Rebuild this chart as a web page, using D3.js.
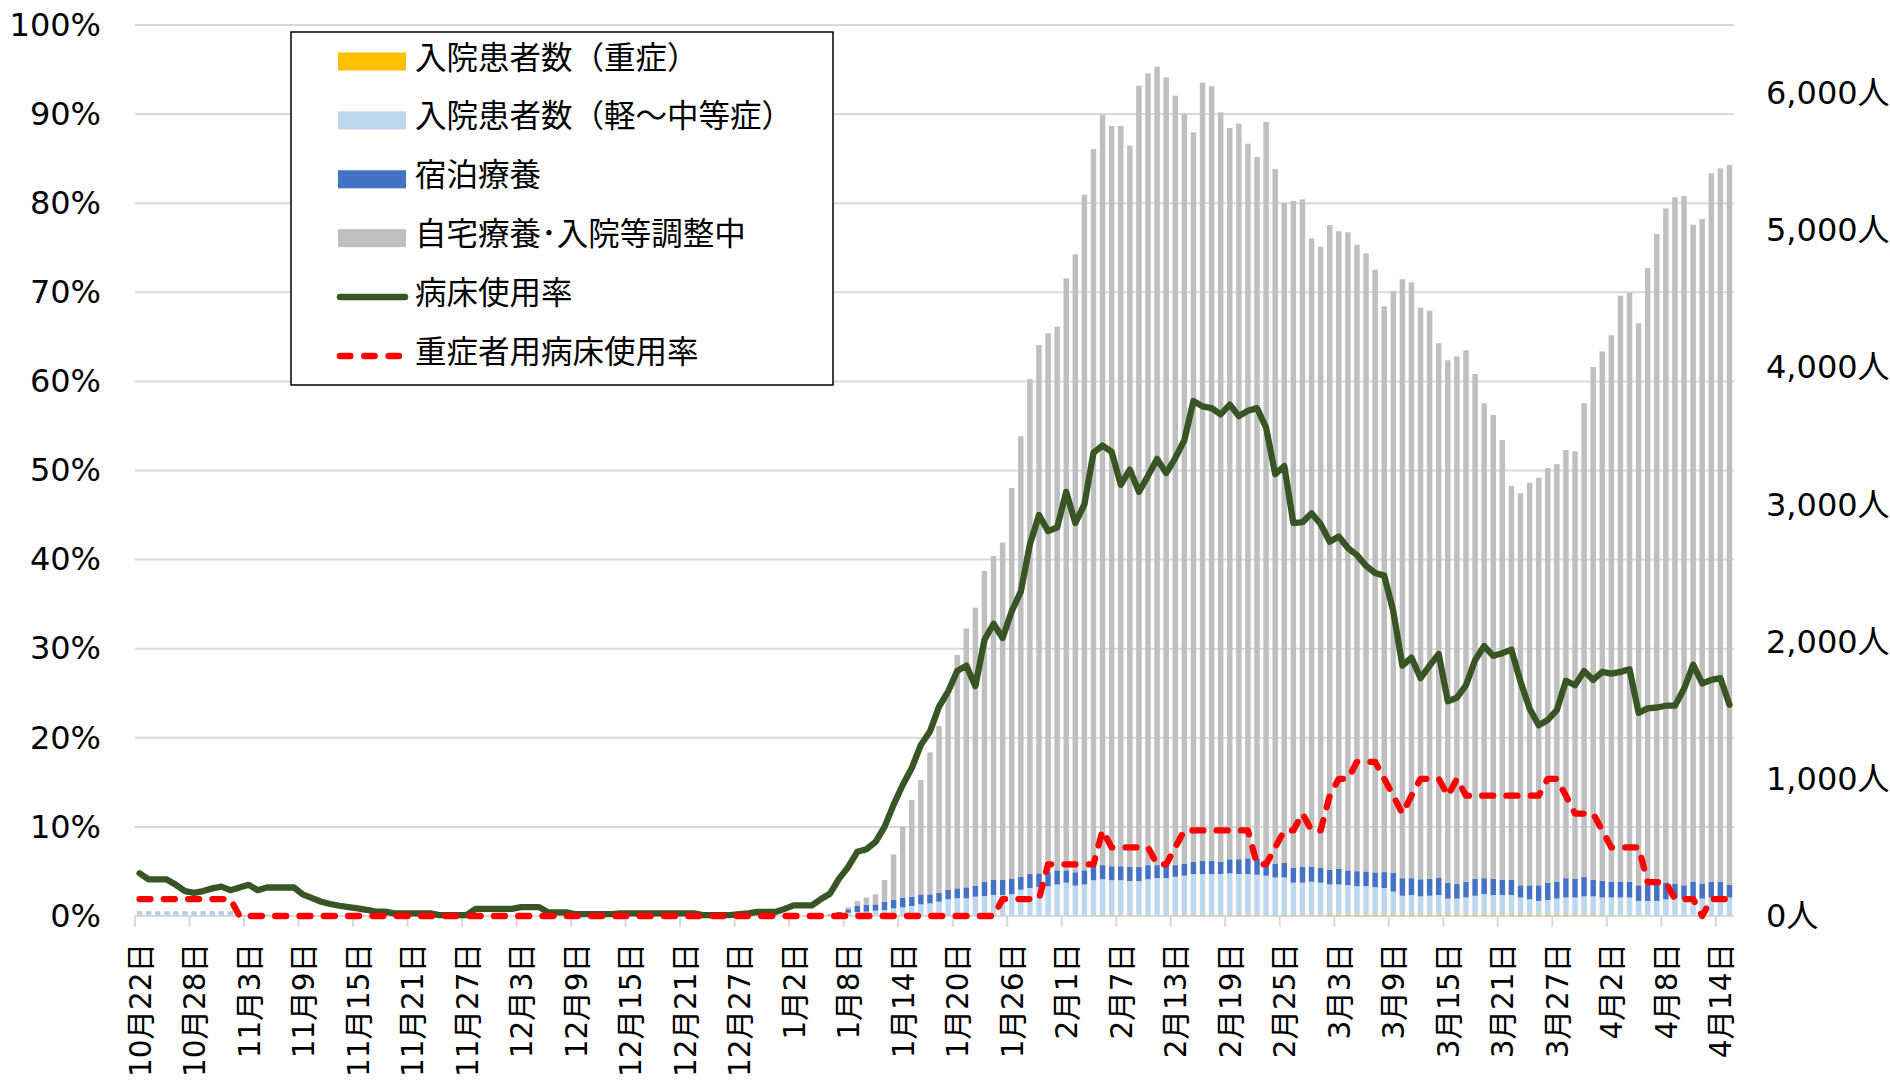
<!DOCTYPE html>
<html>
<head>
<meta charset="utf-8">
<script src="https://cdn.jsdelivr.net/npm/d3@7/dist/d3.min.js"></script>
<style>
	body { margin: 0; background: #fff; }
	svg text { font-family: "DejaVu Sans", "Noto Sans CJK JP", sans-serif; fill: #000; }
</style>
</head>
<body>
<div id="chart"></div>
<script>
// categories: one bar per day, 2021-10-22 .. 2022-04-15
const categories = d3.timeDay.range(new Date(2021, 9, 22), new Date(2022, 3, 16));

const tickLabels = ["10月22日","10月28日","11月3日","11月9日","11月15日","11月21日","11月27日",
	"12月3日","12月9日","12月15日","12月21日","12月27日","1月2日","1月8日","1月14日","1月20日",
	"1月26日","2月1日","2月7日","2月13日","2月19日","2月25日","3月3日","3月9日","3月15日",
	"3月21日","3月27日","4月2日","4月8日","4月14日"];

// 入院患者数（重症）
const severe = [
	1,1,1,1,1,1,1,1,1,1,
	1,0,0,0,0,0,0,0,0,0,0,0,0,0,0,0,0,0,0,0,0,0,0,0,0,0,0,0,0,0,
	0,0,0,0,0,0,0,0,0,0,0,0,0,0,0,0,0,0,0,0,0,0,0,0,0,0,0,0,0,0,0,
	0,0,0,0,0,0,0,0,0,0,0,0,0,0,0,0,0,0,0,0,0,0,0,0,1,1,1,1,1,3,3,
	3,3,3,3,5,4,4,4,4,4,3,3,4,5,5,5,5,5,5,5,5,3,3,4,5,5,6,5,
	5,7,8,8,9,9,9,8,7,6,7,8,8,8,7,8,7,7,7,7,7,7,7,7,7,8,8,7,6,6,6,
	5,4,4,4,4,2,2,2,1,1,1,0,1,1,1
];
// 入院患者数（軽～中等症）
const mild = [
	20,20,20,20,20,20,20,20,20,20,
	20,5,5,5,5,5,5,0,0,0,0,0,0,0,0,0,0,0,0,0,0,0,0,0,0,0,0,0,0,0,
	0,0,0,0,0,0,0,0,0,0,0,0,0,0,0,0,0,0,0,0,0,0,0,0,0,0,0,0,0,0,0,
	0,0,0,0,0,5,15,24,29,32,39,44,56,63,73,85,92,105,122,129,129,141,146,153,152,158,191,203,211,214,227,
	240,219,227,258,263,257,257,251,251,264,273,273,282,289,301,301,301,301,306,301,301,298,291,277,276,238,237,245,
	238,223,222,217,208,208,201,196,171,142,146,135,140,145,120,119,128,141,154,146,146,146,128,115,103,109,119,128,129,137,137,
	130,131,131,131,106,108,108,120,126,121,126,127,134,126,134
];
// 宿泊療養
const lodging = [
	3,3,3,3,3,3,3,3,3,3,
	3,0,0,0,0,0,0,0,0,0,0,0,0,0,0,0,0,0,0,0,0,0,0,0,0,0,0,0,0,0,
	0,0,0,0,0,0,0,0,0,0,0,0,0,0,0,0,0,0,0,0,0,0,0,0,0,0,0,0,0,0,0,
	0,0,0,0,0,5,14,25,44,48,46,61,61,71,68,73,66,65,68,73,80,78,105,110,110,111,94,102,99,102,103,
	90,97,103,102,103,102,102,103,103,103,95,95,85,89,90,98,98,90,103,108,115,120,114,102,107,110,115,108,
	107,108,115,108,110,108,108,116,136,128,123,125,123,128,116,106,115,123,115,118,110,110,89,102,114,126,123,141,136,141,120,
	120,115,115,115,114,119,119,123,110,102,123,110,115,123,94
];
// 自宅療養・入院等調整中
const home = [
	10,10,10,10,10,10,10,10,10,10,
	10,5,5,5,5,5,5,0,0,0,0,0,0,0,0,0,0,0,0,0,0,0,0,0,0,0,0,0,0,0,
	0,0,0,0,0,0,0,0,0,0,0,0,0,0,0,0,0,0,0,0,0,0,0,0,0,0,0,0,0,0,0,
	0,0,0,0,0,0,0,14,36,54,73,158,333,518,705,834,1036,1216,1422,1702,1889,2030,2266,2363,2461,2852,3214,3611,3854,3932,3966,
	4319,4508,4929,5232,5472,5400,5400,5262,5699,5776,5825,5747,5613,5468,5321,5675,5649,5467,5334,5366,5213,5116,5386,5066,4813,4864,4870,4586,
	4533,4703,4650,4655,4570,4509,4397,4128,4245,4369,4347,4170,4145,3897,3811,3850,3877,3683,3464,3384,3209,2874,2860,2937,2973,3025,3047,3124,3119,3458,3742,
	3864,3986,4275,4297,4100,4498,4746,4917,5006,5028,4793,4848,5168,5204,5249
];
// 病床使用率 (%)
const bedRate = [
	4.8,4.1,4.1,4.1,3.5,2.8,2.6,2.8,3.1,3.3,
	2.9,3.2,3.5,2.9,3.2,3.2,3.2,3.2,2.4,2.0,1.6,1.35,1.15,1.0,0.85,0.7,0.5,0.5,0.3,0.3,0.3,0.3,0.3,0.1,0.1,0.1,0.1,0.8,0.8,0.8,
	0.8,0.8,1.0,1.0,1.0,0.4,0.4,0.4,0.2,0.2,0.2,0.2,0.2,0.3,0.3,0.3,0.3,0.3,0.3,0.3,0.3,0.3,0.1,0.1,0.1,0.1,0.2,0.3,0.45,0.45,0.45,
	0.8,1.2,1.2,1.2,1.9,2.5,4.2,5.5,7.2,7.5,8.3,10.0,12.5,14.7,16.6,19.2,20.7,23.5,25.2,27.5,28.1,25.8,31.0,32.8,31.2,34.2,36.4,41.7,45.0,43.2,43.6,
	47.6,44.1,46.2,52.0,52.8,52.1,48.4,50.1,47.6,49.4,51.3,49.7,51.4,53.4,57.8,57.2,57.0,56.3,57.4,56.1,56.7,57.0,54.8,49.6,50.5,44.1,44.2,45.2,
	44.0,42.0,42.6,41.3,40.5,39.3,38.5,38.2,34.2,28.1,29.0,26.7,28.1,29.4,24.1,24.5,25.9,28.7,30.3,29.2,29.5,29.9,26.3,23.3,21.4,22.0,23.1,26.4,25.9,27.5,26.5,
	27.4,27.2,27.4,27.7,22.8,23.3,23.4,23.6,23.6,25.5,28.2,26.1,26.5,26.7,23.7
];
// 重症者用病床使用率 (%)
const severeBedRate = [
	1.9,1.9,1.9,1.9,1.9,1.9,1.9,1.9,1.9,1.9,
	1.9,0,0,0,0,0,0,0,0,0,0,0,0,0,0,0,0,0,0,0,0,0,0,0,0,0,0,0,0,0,
	0,0,0,0,0,0,0,0,0,0,0,0,0,0,0,0,0,0,0,0,0,0,0,0,0,0,0,0,0,0,0,
	0,0,0,0,0,0,0,0,0,0,0,0,0,0,0,0,0,0,0,0,0,0,0,0,1.9,1.9,1.9,1.9,1.9,5.8,5.8,
	5.8,5.8,5.8,5.8,9.6,7.7,7.7,7.7,7.7,7.7,5.8,5.8,7.7,9.6,9.6,9.6,9.6,9.6,9.6,9.6,9.6,5.8,5.8,7.7,9.6,9.6,11.5,9.6,
	9.6,13.5,15.4,15.4,17.3,17.3,17.3,15.4,13.5,11.5,13.5,15.4,15.4,15.4,13.5,15.4,13.5,13.5,13.5,13.5,13.5,13.5,13.5,13.5,13.5,15.4,15.4,13.5,11.5,11.5,11.5,
	9.6,7.7,7.7,7.7,7.7,3.8,3.8,3.8,1.9,1.9,1.9,0,1.9,1.9,1.9
];

const seriesKeys = ["severe", "mild", "lodging", "home"];
const legendNames = ["入院患者数（重症）", "入院患者数（軽～中等症）", "宿泊療養", "自宅療養･入院等調整中", "病床使用率", "重症者用病床使用率"];

class BedChart {
	constructor(){
		this.width = 1890;
		this.height = 1081;
		this.plot = { left: 135, right: 1734, top: 25, bottom: 916 };
		this.colors = { severe: "#ffc000", mild: "#bdd7ee", lodging: "#4472c4", home: "#bfbfbf" };
		this.green = "#375623";
		this.red = "#ff0000";
		this.dash = "11 13.3";
		this.drawChart();
	}

	drawChart(){
		let p = this.plot;
		let that = this;

		let rows = categories.map((d, i) => {
			return { i: i, severe: severe[i], mild: mild[i], lodging: lodging[i], home: home[i] };
		});

		let svg = d3.select("#chart").append("svg")
			.attr("width", this.width)
			.attr("height", this.height);

		let x = d3.scaleBand()
			.domain(d3.range(categories.length))
			.range([p.left, p.right])
			.paddingInner(0.4)
			.paddingOuter(0.2);
		let cx = (i) => x(i) + x.bandwidth() / 2;
		let step = x.step();

		let yL = d3.scaleLinear().domain([0, 100]).range([p.bottom, p.top]);
		let yR = d3.scaleLinear().domain([0, 6500]).range([p.bottom, p.top]);

		// gridlines
		svg.append("g").selectAll("line")
			.data(d3.range(0, 101, 10))
			.enter().append("line")
			.attr("x1", p.left).attr("x2", p.right)
			.attr("y1", d => yL(d)).attr("y2", d => yL(d))
			.attr("stroke", "#d9d9d9")
			.attr("stroke-width", 2);

		// category tick marks every 6 days
		svg.append("g").selectAll("line")
			.data(d3.range(0, categories.length, 6))
			.enter().append("line")
			.attr("x1", d => p.left + d * step).attr("x2", d => p.left + d * step)
			.attr("y1", p.bottom).attr("y2", p.bottom + 11)
			.attr("stroke", "#d9d9d9")
			.attr("stroke-width", 2);

		// stacked bars
		let stack = d3.stack().keys(seriesKeys)(rows);
		svg.append("g").selectAll("g")
			.data(stack)
			.enter().append("g")
			.attr("fill", d => that.colors[d.key])
			.selectAll("rect")
			.data(d => d)
			.enter().append("rect")
			.attr("x", d => x(d.data.i))
			.attr("width", x.bandwidth())
			.attr("y", d => yR(d[1]))
			.attr("height", d => yR(d[0]) - yR(d[1]));

		// lines
		let lineL = d3.line()
			.x((d, i) => cx(i))
			.y(d => yL(d));

		svg.append("path")
			.datum(bedRate)
			.attr("d", lineL)
			.attr("fill", "none")
			.attr("stroke", this.green)
			.attr("stroke-width", 6.3)
			.attr("stroke-linejoin", "round")
			.attr("stroke-linecap", "round");

		svg.append("path")
			.datum(severeBedRate)
			.attr("d", lineL)
			.attr("fill", "none")
			.attr("stroke", this.red)
			.attr("stroke-width", 6.3)
			.attr("stroke-dasharray", this.dash)
			.attr("stroke-linejoin", "round")
			.attr("stroke-linecap", "round");

		// left axis
		let axL = svg.append("g")
			.attr("transform", "translate(" + p.left + ",0)")
			.call(d3.axisLeft(yL).tickValues(d3.range(0, 101, 10)).tickFormat(d => d + "%").tickSize(0).tickPadding(34));
		axL.select(".domain").remove();
		axL.selectAll("text").attr("font-size", 32).attr("font-family", null);

		// right axis
		let axR = svg.append("g")
			.attr("transform", "translate(" + p.right + ",0)")
			.call(d3.axisRight(yR).tickValues(d3.range(0, 6001, 1000)).tickFormat(d => d3.format(",")(d) + "人").tickSize(0).tickPadding(32));
		axR.select(".domain").remove();
		axR.selectAll("text").attr("font-size", 32).attr("font-family", null);

		// date labels
		svg.append("g").selectAll("text")
			.data(tickLabels)
			.enter().append("text")
			.attr("transform", (d, k) => "translate(" + (cx(k * 6) + 1) + "," + (p.bottom + 27) + ") rotate(-90)")
			.attr("text-anchor", "end")
			.attr("dominant-baseline", "central")
			.attr("font-size", 29.5)
			.text(d => d);

		// legend
		let leg = svg.append("g");
		leg.append("rect")
			.attr("x", 291).attr("y", 32)
			.attr("width", 542).attr("height", 353)
			.attr("fill", "#fff")
			.attr("stroke", "#000")
			.attr("stroke-width", 1.5);

		let rowY = (i) => 61.5 + i * 58.9;
		leg.selectAll("rect.sw")
			.data(seriesKeys)
			.enter().append("rect")
			.classed("sw", true)
			.attr("x", 338).attr("y", (d, i) => rowY(i) - 9)
			.attr("width", 68).attr("height", 18)
			.attr("fill", d => that.colors[d]);

		leg.append("line")
			.attr("x1", 340).attr("x2", 405)
			.attr("y1", rowY(4)).attr("y2", rowY(4))
			.attr("stroke", this.green).attr("stroke-width", 6.5).attr("stroke-linecap", "round");
		leg.append("line")
			.attr("x1", 340).attr("x2", 405)
			.attr("y1", rowY(5)).attr("y2", rowY(5))
			.attr("stroke", this.red).attr("stroke-width", 6.5).attr("stroke-linecap", "round")
			.attr("stroke-dasharray", "10.3 14");

		leg.selectAll("text")
			.data(legendNames)
			.enter().append("text")
			.attr("x", 415)
			.attr("y", (d, i) => rowY(i) - 4)
			.attr("dominant-baseline", "central")
			.attr("font-size", 31.5)
			.text(d => d);
	}
}

new BedChart();
</script>
</body>
</html>
